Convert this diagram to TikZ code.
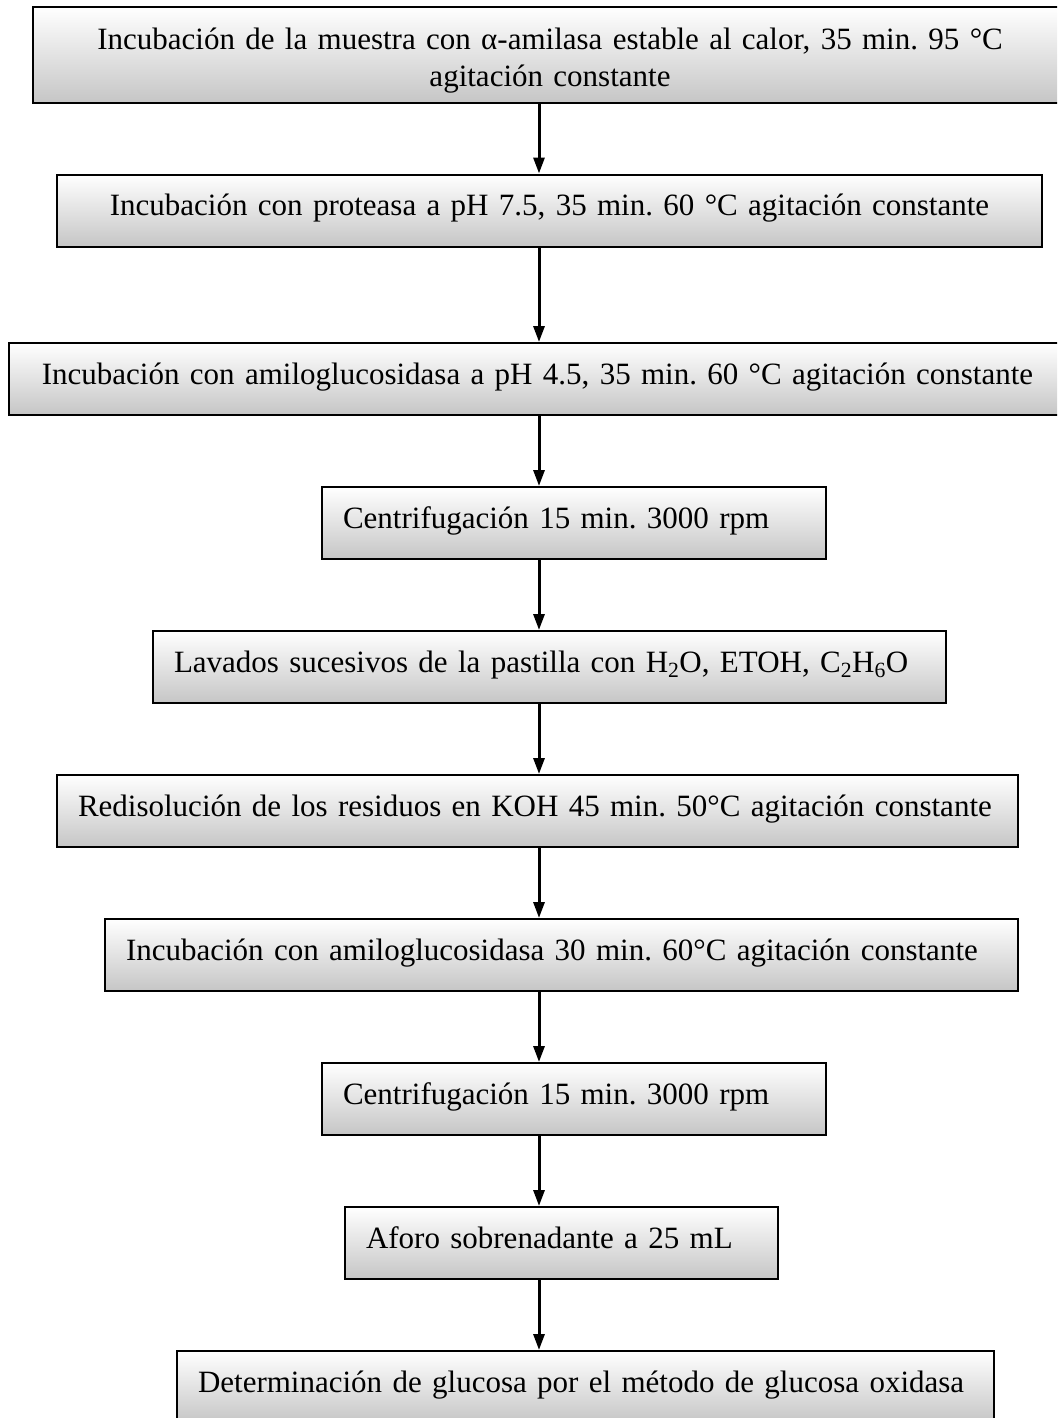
\documentclass[tikz,border=0pt]{standalone}
\usepackage{fontspec}
\setmainfont{Liberation Serif}
\usetikzlibrary{arrows.meta}
\frenchspacing

\begin{document}
\begin{tikzpicture}[x=1pt, y=-1pt, every node/.style={font=\fontsize{31}{36.5}\selectfont},
  paso/.style={draw, line width=2pt, top color=white, bottom color=gray!45, minimum height=72pt, inner xsep=21pt, inner ysep=0pt, text height=22pt, text depth=12pt},
  linea/.style={align=left, execute at begin node={\leavevmode\hbox\bgroup}, execute at end node={\egroup}},
  flecha/.style={line width=3pt, -{Triangle[length=16pt, width=11pt]}}]
  \clip (0, 0) rectangle (1057, 1418);
  \coordinate (eje) at (539, 0);
  \node[paso, minimum width=1034pt, minimum height=96pt, text width=992pt, align=center, text height=22pt, text depth=32pt] (muestra) at (550, 55) {Incubación de la muestra con α-amilasa estable al calor, 35 min. 95 °C\\agitación constante};
  \node[paso, minimum width=985pt, text width=943pt, align=center] (proteasa) at (549.5, 210.5) {Incubación con proteasa a pH 7.5, 35 min. 60 °C agitación constante};
  \node[paso, minimum width=1057pt, text width=1015pt, align=center] (amilo) at (537.5, 379) {Incubación con amiloglucosidasa a pH 4.5, 35 min. 60 °C agitación constante};
  \node[paso, linea, minimum width=504pt, text width=462pt] (centri) at (574, 523) {Centrifugación 15 min. 3000 rpm};
  \node[paso, linea, minimum width=793pt, text width=751pt] (lavado) at (549.5, 667) {Lavados sucesivos de la pastilla con H\textsubscript{2}O, ETOH, C\textsubscript{2}H\textsubscript{6}O};
  \node[paso, linea, minimum width=961pt, text width=919pt] (redis) at (537.5, 811) {Redisolución de los residuos en KOH 45 min. 50°C agitación constante};
  \node[paso, linea, minimum width=913pt, text width=871pt] (incub) at (561.5, 955) {Incubación con amiloglucosidasa 30 min. 60°C agitación constante};
  \node[paso, linea, minimum width=504pt, text width=462pt] (centri2) at (574, 1099) {Centrifugación 15 min. 3000 rpm};
  \node[paso, linea, minimum width=433pt, text width=391pt] (aforo) at (561.5, 1243) {Aforo sobrenadante a 25 mL};
  \node[paso, linea, minimum width=817pt, text width=775pt] (glucosa) at (585.5, 1387) {Determinación de glucosa por el método de glucosa oxidasa};
  \draw[flecha] (muestra.south -| eje) -- (proteasa.north -| eje);
  \draw[flecha] (proteasa.south -| eje) -- (amilo.north -| eje);
  \draw[flecha] (amilo.south -| eje) -- (centri.north -| eje);
  \draw[flecha] (centri.south -| eje) -- (lavado.north -| eje);
  \draw[flecha] (lavado.south -| eje) -- (redis.north -| eje);
  \draw[flecha] (redis.south -| eje) -- (incub.north -| eje);
  \draw[flecha] (incub.south -| eje) -- (centri2.north -| eje);
  \draw[flecha] (centri2.south -| eje) -- (aforo.north -| eje);
  \draw[flecha] (aforo.south -| eje) -- (glucosa.north -| eje);
\end{tikzpicture}
\end{document}
